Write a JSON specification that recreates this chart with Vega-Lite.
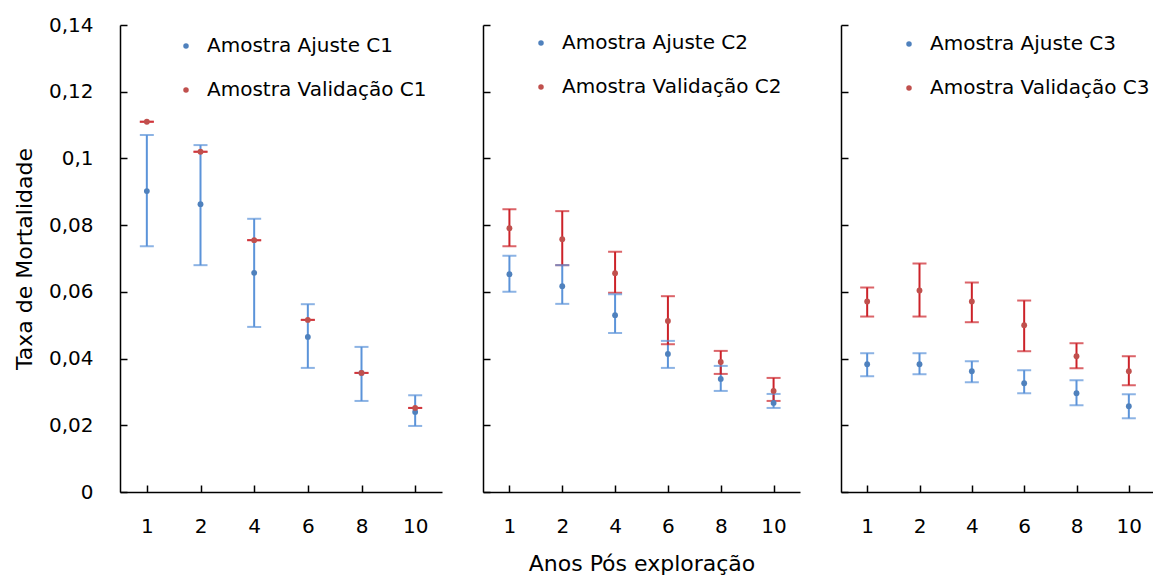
{
  "$schema": "https://vega.github.io/schema/vega-lite/v6.json",
  "padding": {"left": 13, "top": 15, "right": 0, "bottom": 5},
  "background": "white",
  "config": {
    "font": "DejaVu Sans",
    "view": {"stroke": null},
    "axis": {"grid": false, "domainColor": "#000000", "domainWidth": 1.5, "tickColor": "#000000", "tickWidth": 1.5, "tickSize": -7, "labelColor": "#000000", "labelFont": "DejaVu Sans", "labelFontSize": 20, "titleFont": "DejaVu Sans", "titleFontSize": 22, "titleFontWeight": "normal", "titleColor": "#000000"},
    "legend": {"labelFont": "DejaVu Sans", "labelFontSize": 20, "labelColor": "#000000", "labelLimit": 0, "symbolType": "circle", "symbolSize": 30, "rowPadding": 24, "labelOffset": 11, "title": null}
  },
  "datasets": {
    "d": [
      {"painel": "C1", "ano": "1", "serie": "Amostra Ajuste C1", "valor": 0.0902, "lo": 0.0737, "hi": 0.107},
      {"painel": "C1", "ano": "2", "serie": "Amostra Ajuste C1", "valor": 0.0863, "lo": 0.068, "hi": 0.104},
      {"painel": "C1", "ano": "4", "serie": "Amostra Ajuste C1", "valor": 0.0657, "lo": 0.0495, "hi": 0.0819},
      {"painel": "C1", "ano": "6", "serie": "Amostra Ajuste C1", "valor": 0.0465, "lo": 0.0372, "hi": 0.0563},
      {"painel": "C1", "ano": "8", "serie": "Amostra Ajuste C1", "valor": 0.0357, "lo": 0.0273, "hi": 0.0435},
      {"painel": "C1", "ano": "10", "serie": "Amostra Ajuste C1", "valor": 0.024, "lo": 0.0198, "hi": 0.029},
      {"painel": "C1", "ano": "1", "serie": "Amostra Validação C1", "valor": 0.111, "lo": 0.111, "hi": 0.111},
      {"painel": "C1", "ano": "2", "serie": "Amostra Validação C1", "valor": 0.102, "lo": 0.102, "hi": 0.102},
      {"painel": "C1", "ano": "4", "serie": "Amostra Validação C1", "valor": 0.0755, "lo": 0.0755, "hi": 0.0755},
      {"painel": "C1", "ano": "6", "serie": "Amostra Validação C1", "valor": 0.0516, "lo": 0.0516, "hi": 0.0516},
      {"painel": "C1", "ano": "8", "serie": "Amostra Validação C1", "valor": 0.0357, "lo": 0.0357, "hi": 0.0357},
      {"painel": "C1", "ano": "10", "serie": "Amostra Validação C1", "valor": 0.0252, "lo": 0.0252, "hi": 0.0252},
      {"painel": "C2", "ano": "1", "serie": "Amostra Ajuste C2", "valor": 0.0653, "lo": 0.06, "hi": 0.0708},
      {"painel": "C2", "ano": "2", "serie": "Amostra Ajuste C2", "valor": 0.0617, "lo": 0.0564, "hi": 0.068},
      {"painel": "C2", "ano": "4", "serie": "Amostra Ajuste C2", "valor": 0.053, "lo": 0.0477, "hi": 0.0593},
      {"painel": "C2", "ano": "6", "serie": "Amostra Ajuste C2", "valor": 0.0414, "lo": 0.0372, "hi": 0.0453},
      {"painel": "C2", "ano": "8", "serie": "Amostra Ajuste C2", "valor": 0.0339, "lo": 0.0303, "hi": 0.0378},
      {"painel": "C2", "ano": "10", "serie": "Amostra Ajuste C2", "valor": 0.0267, "lo": 0.0252, "hi": 0.0294},
      {"painel": "C2", "ano": "1", "serie": "Amostra Validação C2", "valor": 0.0791, "lo": 0.0737, "hi": 0.0848},
      {"painel": "C2", "ano": "2", "serie": "Amostra Validação C2", "valor": 0.0758, "lo": 0.068, "hi": 0.0842},
      {"painel": "C2", "ano": "4", "serie": "Amostra Validação C2", "valor": 0.0656, "lo": 0.0597, "hi": 0.072},
      {"painel": "C2", "ano": "6", "serie": "Amostra Validação C2", "valor": 0.0513, "lo": 0.0443, "hi": 0.0587},
      {"painel": "C2", "ano": "8", "serie": "Amostra Validação C2", "valor": 0.039, "lo": 0.0354, "hi": 0.0423},
      {"painel": "C2", "ano": "10", "serie": "Amostra Validação C2", "valor": 0.0303, "lo": 0.0273, "hi": 0.0342},
      {"painel": "C3", "ano": "1", "serie": "Amostra Ajuste C3", "valor": 0.0383, "lo": 0.0347, "hi": 0.0416},
      {"painel": "C3", "ano": "2", "serie": "Amostra Ajuste C3", "valor": 0.0383, "lo": 0.0353, "hi": 0.0416},
      {"painel": "C3", "ano": "4", "serie": "Amostra Ajuste C3", "valor": 0.0362, "lo": 0.0329, "hi": 0.0392},
      {"painel": "C3", "ano": "6", "serie": "Amostra Ajuste C3", "valor": 0.0326, "lo": 0.0296, "hi": 0.0365},
      {"painel": "C3", "ano": "8", "serie": "Amostra Ajuste C3", "valor": 0.0296, "lo": 0.026, "hi": 0.0335},
      {"painel": "C3", "ano": "10", "serie": "Amostra Ajuste C3", "valor": 0.0257, "lo": 0.0221, "hi": 0.0293},
      {"painel": "C3", "ano": "1", "serie": "Amostra Validação C3", "valor": 0.0571, "lo": 0.0526, "hi": 0.0613},
      {"painel": "C3", "ano": "2", "serie": "Amostra Validação C3", "valor": 0.0604, "lo": 0.0526, "hi": 0.0685},
      {"painel": "C3", "ano": "4", "serie": "Amostra Validação C3", "valor": 0.0571, "lo": 0.0509, "hi": 0.0628},
      {"painel": "C3", "ano": "6", "serie": "Amostra Validação C3", "valor": 0.05, "lo": 0.0422, "hi": 0.0574},
      {"painel": "C3", "ano": "8", "serie": "Amostra Validação C3", "valor": 0.0407, "lo": 0.0371, "hi": 0.0446},
      {"painel": "C3", "ano": "10", "serie": "Amostra Validação C3", "valor": 0.0362, "lo": 0.032, "hi": 0.0407}
    ]
  },
  "spacing": 40,
  "resolve": {"scale": {"color": "independent"}, "legend": {"color": "independent"}},
  "hconcat": [
    {
      "width": 322, "height": 467,
      "data": {"name": "d"},
      "transform": [{"filter": "datum.painel == 'C1'"}],
      "encoding": {
        "x": {"field": "ano", "type": "ordinal", "sort": ["1", "2", "4", "6", "8", "10"], "scale": {"type": "point", "padding": 0.5}, "axis": {"labelAngle": 0, "title": null, "labelPadding": 31}}
      },
      "layer": [
        {"mark": {"type": "rule", "strokeWidth": 2}, "encoding": {"y": {"field": "lo", "type": "quantitative", "scale": {"domain": [0, 0.14], "nice": false}, "axis": {"title": "Taxa de Mortalidade", "values": [0, 0.02, 0.04, 0.06, 0.08, 0.1, 0.12, 0.14], "labelExpr": "replace(format(datum.value, '~g'), '.', ',')", "labelPadding": 34, "titlePadding": 12}}, "y2": {"field": "hi"}, "color": {"condition": {"test": "indexof(datum.serie, 'Ajuste') >= 0", "value": "#5B93D9"}, "value": "#CC2229"}}},
        {"mark": {"type": "tick", "size": 14, "thickness": 2}, "encoding": {"y": {"field": "lo", "type": "quantitative"}, "color": {"condition": {"test": "indexof(datum.serie, 'Ajuste') >= 0", "value": "#5B93D9"}, "value": "#CC2229"}}},
        {"mark": {"type": "tick", "size": 14, "thickness": 2}, "encoding": {"y": {"field": "hi", "type": "quantitative"}, "color": {"condition": {"test": "indexof(datum.serie, 'Ajuste') >= 0", "value": "#5B93D9"}, "value": "#CC2229"}}},
        {"mark": {"type": "point", "filled": true, "size": 34, "opacity": 1}, "encoding": {"y": {"field": "valor", "type": "quantitative"}, "color": {"field": "serie", "type": "nominal", "scale": {"domain": ["Amostra Ajuste C1", "Amostra Validação C1"], "range": ["#4F81BD", "#C0504D"]}, "legend": {"orient": "none", "legendX": 56, "legendY": 11}}}}
      ]
    },
    {
      "width": 317, "height": 467,
      "data": {"name": "d"},
      "transform": [{"filter": "datum.painel == 'C2'"}],
      "encoding": {
        "x": {"field": "ano", "type": "ordinal", "sort": ["1", "2", "4", "6", "8", "10"], "scale": {"type": "point", "padding": 0.5}, "axis": {"labelAngle": 0, "title": "Anos Pós exploração", "labelPadding": 31, "titlePadding": 17}}
      },
      "layer": [
        {"mark": {"type": "rule", "strokeWidth": 2}, "encoding": {"y": {"field": "lo", "type": "quantitative", "scale": {"domain": [0, 0.14], "nice": false}, "axis": {"title": null, "labels": false, "values": [0, 0.02, 0.04, 0.06, 0.08, 0.1, 0.12, 0.14]}}, "y2": {"field": "hi"}, "color": {"condition": {"test": "indexof(datum.serie, 'Ajuste') >= 0", "value": "#5B93D9"}, "value": "#CC2229"}}},
        {"mark": {"type": "tick", "size": 14, "thickness": 2}, "encoding": {"y": {"field": "lo", "type": "quantitative"}, "color": {"condition": {"test": "indexof(datum.serie, 'Ajuste') >= 0", "value": "#5B93D9"}, "value": "#CC2229"}}},
        {"mark": {"type": "tick", "size": 14, "thickness": 2}, "encoding": {"y": {"field": "hi", "type": "quantitative"}, "color": {"condition": {"test": "indexof(datum.serie, 'Ajuste') >= 0", "value": "#5B93D9"}, "value": "#CC2229"}}},
        {"mark": {"type": "point", "filled": true, "size": 34, "opacity": 1}, "encoding": {"y": {"field": "valor", "type": "quantitative"}, "color": {"field": "serie", "type": "nominal", "scale": {"domain": ["Amostra Ajuste C2", "Amostra Validação C2"], "range": ["#4F81BD", "#C0504D"]}, "legend": {"orient": "none", "legendX": 48, "legendY": 8}}}}
      ]
    },
    {
      "width": 314, "height": 467,
      "data": {"name": "d"},
      "transform": [{"filter": "datum.painel == 'C3'"}],
      "encoding": {
        "x": {"field": "ano", "type": "ordinal", "sort": ["1", "2", "4", "6", "8", "10"], "scale": {"type": "point", "padding": 0.5}, "axis": {"labelAngle": 0, "title": null, "labelPadding": 31}}
      },
      "layer": [
        {"mark": {"type": "rule", "strokeWidth": 2}, "encoding": {"y": {"field": "lo", "type": "quantitative", "scale": {"domain": [0, 0.14], "nice": false}, "axis": {"title": null, "labels": false, "values": [0, 0.02, 0.04, 0.06, 0.08, 0.1, 0.12, 0.14]}}, "y2": {"field": "hi"}, "color": {"condition": {"test": "indexof(datum.serie, 'Ajuste') >= 0", "value": "#5B93D9"}, "value": "#CC2229"}}},
        {"mark": {"type": "tick", "size": 14, "thickness": 2}, "encoding": {"y": {"field": "lo", "type": "quantitative"}, "color": {"condition": {"test": "indexof(datum.serie, 'Ajuste') >= 0", "value": "#5B93D9"}, "value": "#CC2229"}}},
        {"mark": {"type": "tick", "size": 14, "thickness": 2}, "encoding": {"y": {"field": "hi", "type": "quantitative"}, "color": {"condition": {"test": "indexof(datum.serie, 'Ajuste') >= 0", "value": "#5B93D9"}, "value": "#CC2229"}}},
        {"mark": {"type": "point", "filled": true, "size": 34, "opacity": 1}, "encoding": {"y": {"field": "valor", "type": "quantitative"}, "color": {"field": "serie", "type": "nominal", "scale": {"domain": ["Amostra Ajuste C3", "Amostra Validação C3"], "range": ["#4F81BD", "#C0504D"]}, "legend": {"orient": "none", "legendX": 58, "legendY": 9}}}}
      ]
    }
  ]
}
